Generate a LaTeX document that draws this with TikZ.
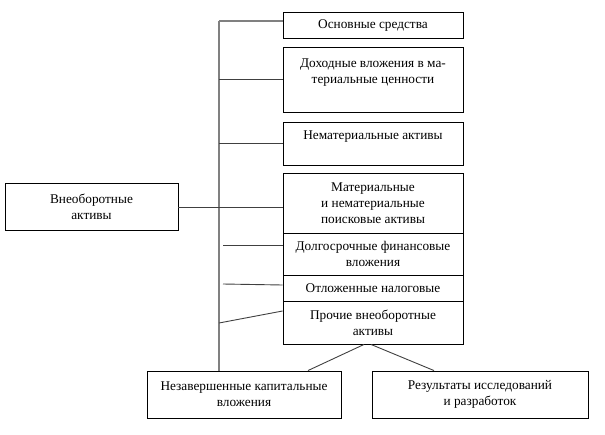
\documentclass[tikz,border=0pt]{standalone}
\usepackage{fontspec}
\setmainfont{Liberation Serif}
\newfontfamily\boxfont{Liberation Serif}
\usepackage{tikz}
\usetikzlibrary{positioning}

\tikzset{
	box/.style={draw, line width=0.9pt, minimum width=180pt, inner sep=0pt, align=center,
		font=\boxfont\fontsize{13.3}{16}\selectfont},
	conn/.style={draw=black!75, line width=0.9pt},
	trunk/.style={draw=black!50, line width=1.2pt}
}

\begin{document}
\begin{tikzpicture}[x=1pt,y=-1pt]
		\useasboundingbox (0,0) rectangle (605,434);
		% right column
		\node[box, minimum height=26pt] (osn) at (373,25.5) {Основные средства};
		\node[box, minimum height=65pt] (dohod) at (373,79.5) {Доходные вложения в ма-\\териальные ценности\\ };
		\node[box, minimum height=43pt] (nemat) at (373,143.5) {Нематериальные активы\\ };
		\node[box, minimum height=60pt] (poisk) at (373,203) {Материальные\\и нематериальные\\поисковые активы};
		\node[box, minimum height=42pt] (dolg) at (373,254) {Долгосрочные финансовые\\вложения};
		\node[box, minimum height=26pt] (otlozh) at (373,288) {Отложенные налоговые};
		\node[box, minimum height=43pt] (proch) at (373,322.5) {Прочие внеоборотные\\активы};

		\node[box, minimum width=173pt, minimum height=47pt] (vneob) at (91.5,207) {Внеоборотные\\активы};
		\node[box, minimum width=194pt, minimum height=47pt] (nezav) at (244,394.5) {Незавершенные капитальные\\вложения};
		\node[box, minimum width=216pt, minimum height=47pt] (result) at (480,394.5) {Результаты исследований\\и разработок};

		\coordinate (top) at (219,21);
		\coordinate (c5) at (223,245);
		\coordinate (c6) at (223,284);
		\coordinate (c7) at (219,323);

		\draw[trunk] (top) -- (top |- nezav.north);
		\draw[trunk] (top) -- (top -| osn.west);
		\draw[conn] (top |- dohod.west) -- (dohod.west);
		\draw[conn] (top |- nemat.west) -- (nemat.west);
		\draw[conn] (vneob.east) -- (vneob.east -| poisk.west);
		\draw[conn] (c5) -- (c5 -| dolg.west);
		\draw[conn] (c6) -- ([yshift=-1pt]c6 -| otlozh.west);
		\draw[conn] (c7) -- ([yshift=11.5pt]proch.west);

		\draw[conn] ([xshift=-9pt]proch.south) -- ([xshift=64pt]nezav.north);
		\draw[conn] ([xshift=-2pt]proch.south) -- ([xshift=-46pt]result.north);
\end{tikzpicture}
\end{document}
